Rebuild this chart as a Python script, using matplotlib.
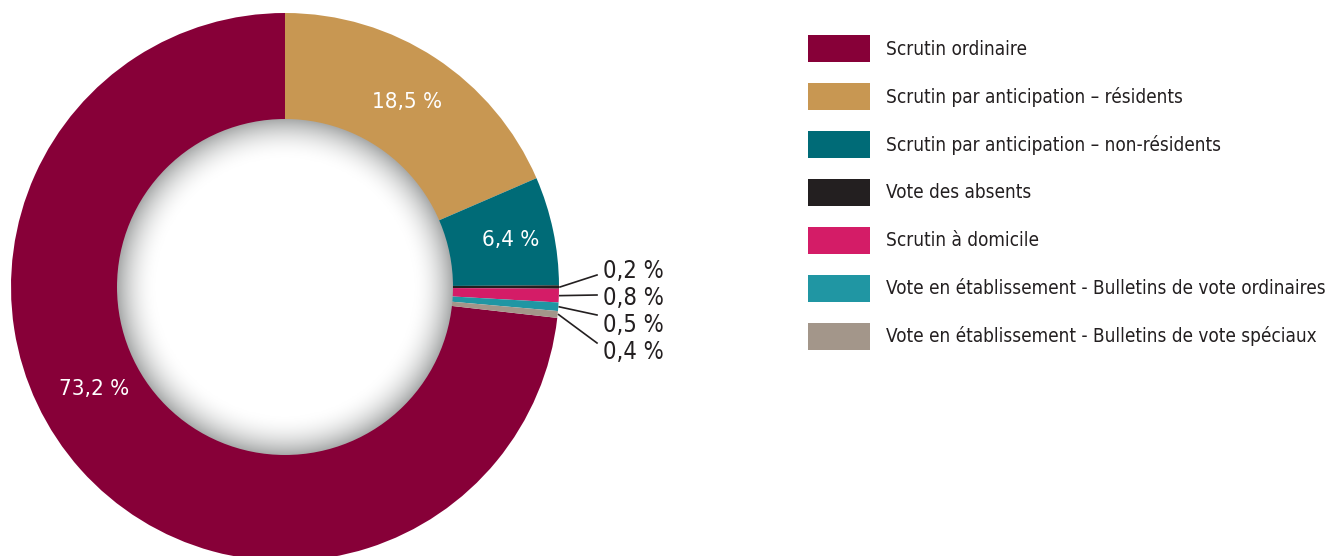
import numpy as np
import matplotlib.pyplot as plt
from matplotlib.patches import Circle
from matplotlib.colors import LinearSegmentedColormap

plt.rcParams['font.family'] = ['DejaVu Sans']
plt.rcParams['font.stretch'] = 'condensed'

categories = [
    "Scrutin ordinaire",
    "Scrutin par anticipation – résidents",
    "Scrutin par anticipation – non-résidents",
    "Vote des absents",
    "Scrutin à domicile",
    "Vote en établissement - Bulletins de vote ordinaires",
    "Vote en établissement - Bulletins de vote spéciaux",
]
values = [73.2, 18.5, 6.4, 0.2, 0.8, 0.5, 0.4]
colors = ["#870038", "#C89752", "#006B77", "#231F20", "#D41C67", "#2096A3", "#A3968A"]

W, H = 1333, 556
fig = plt.figure(figsize=(W / 100, H / 100), dpi=100)
ax = fig.add_axes([0, 0, 1, 1])

cx, cy = 285, H - 287
R, r_in = 274, 168

# first slice ends at the top, the rest follow clockwise
start = 90 + 360 * values[0] / sum(values)
wedges, _ = ax.pie(values, colors=colors, startangle=start, counterclock=False,
                   center=(cx, cy), radius=R,
                   wedgeprops=dict(width=R - r_in + 2, edgecolor='none'))
ax.set_xlim(0, W)
ax.set_ylim(0, H)
ax.set_aspect('equal')
ax.axis('off')

# shaded hole in the middle
n = 400
g = np.linspace(-1, 1, n)
xx, yy = np.meshgrid(g, g)
rr = np.sqrt(xx ** 2 + yy ** 2)
shade = np.clip((rr - 0.76) / 0.24, 0, 1) ** 2
cmap = LinearSegmentedColormap.from_list("hole", ["#ffffff", "#a9abab"])
im = ax.imshow(shade, cmap=cmap, vmin=0, vmax=1, interpolation='bilinear',
               extent=(cx - r_in, cx + r_in, cy - r_in, cy + r_in), zorder=3)
clip = Circle((cx, cy), r_in, transform=ax.transData, facecolor='none', edgecolor='none')
ax.add_patch(clip)
im.set_clip_path(clip)


def fmt(v):
    return f"{v:.1f} %".replace('.', ',')


def mid_angle(w):
    return np.deg2rad((w.theta1 + w.theta2) / 2)


# white labels inside the big slices
inside = {0: (np.deg2rad(208), 0.79), 1: (None, 0.81), 2: (None, 0.84)}
for i, (ang, dist) in inside.items():
    a = mid_angle(wedges[i]) if ang is None else ang
    ax.text(cx + dist * R * np.cos(a), cy + dist * R * np.sin(a), fmt(values[i]),
            color='white', fontsize=16, ha='center', va='center', zorder=4)

# small slices labelled outside with leader lines
label_x = 603
label_y = [H - 271, H - 298, H - 325, H - 352]
line_end_y = [H - 275, H - 295, H - 315, H - 343]
for k, i in enumerate(range(3, 7)):
    a = mid_angle(wedges[i])
    x0, y0 = cx + (R + 1) * np.cos(a), cy + (R + 1) * np.sin(a)
    ax.text(label_x, label_y[k], fmt(values[i]), fontsize=17, color='#231F20',
            ha='left', va='center')
    ax.plot([x0, label_x - 6], [y0, line_end_y[k]], color='#231F20', lw=1.2, zorder=5)

fs = 13.6
px = fs * 100 / 72
fig.legend(wedges, categories, loc='upper left', bbox_to_anchor=(808 / W, 1 - 35 / H),
           frameon=False, fontsize=fs, borderpad=0, borderaxespad=0,
           handlelength=62 / px, handleheight=1.82,
           handletextpad=16 / px, labelspacing=21 / px, labelcolor='#231F20')

fig.savefig("out.png", dpi=100)
